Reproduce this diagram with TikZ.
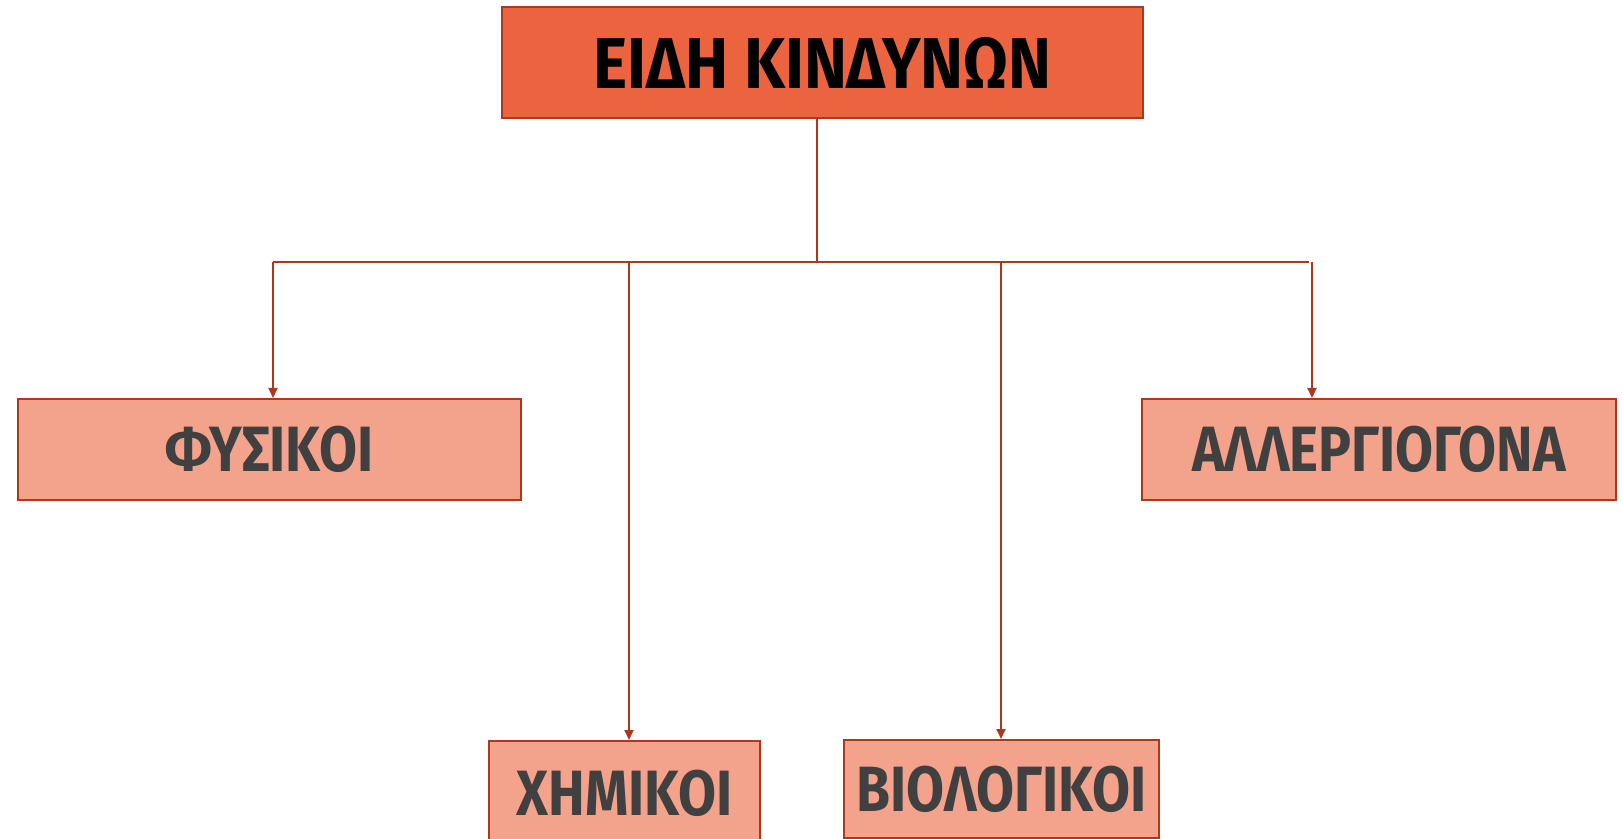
\documentclass[tikz,border=0pt]{standalone}
\usepackage{fontspec}
\setmainfont{Fira Sans}
\newfontfamily\headfont{Fira Sans}[FakeStretch=0.9]
\newfontfamily\kindfont{Fira Sans}[FakeStretch=0.86]
\usetikzlibrary{arrows.meta}
\definecolor{topfill}{HTML}{EC6340}
\definecolor{boxfill}{HTML}{F3A38B}
\definecolor{edge}{HTML}{AE371C}
\definecolor{txt}{HTML}{404040}

\begin{document}
\begin{tikzpicture}[x=0.5pt,y=-0.5pt,
    topbox/.style={draw=edge,line width=1pt,fill=topfill,inner sep=0pt,
      font=\headfont\fontsize{36}{40}\selectfont\bfseries},
    kindbox/.style={draw=edge,line width=1pt,fill=boxfill,inner sep=0pt,
      text=txt,font=\kindfont\fontsize{32}{36}\selectfont\bfseries},
    link/.style={draw=edge,line width=1pt},
    arr/.style={link,-{Triangle[length=5pt,width=4.5pt]}}]
    \useasboundingbox (0,0) rectangle (1622,839);
    \node[topbox,minimum width=320.5pt,minimum height=55.5pt] (top) at (822.5,62.5) {ΕΙΔΗ ΚΙΝΔΥΝΩΝ};
    \node[kindbox,minimum width=251.5pt,minimum height=50.5pt] (fys) at (269.5,449.5) {ΦΥΣΙΚΟΙ};
    \node[kindbox,minimum width=237pt,minimum height=50.5pt] (aller) at (1379,449.5) {ΑΛΛΕΡΓΙΟΓΟΝΑ};
    \node[kindbox,minimum width=135.5pt,minimum height=52pt] (chem) at (624.5,793) {ΧΗΜΙΚΟΙ};
    \node[kindbox,minimum width=157.5pt,minimum height=49pt] (bio) at (1001.5,789) {ΒΙΟΛΟΓΙΚΟΙ};
    \coordinate (hub) at (817,262);
    \coordinate (bl) at (273,262);
    \coordinate (br) at (1309,262);
    \coordinate (bc) at (629,262);
    \coordinate (bb) at (1001,262);
    \coordinate (ba) at (1312,262);
    \draw[link] (top.south -| hub) -- (hub);
    \draw[link] (bl) -- (br);
    \draw[arr] (bl) -- (bl |- fys.north);
    \draw[arr] (bc) -- (bc |- chem.north);
    \draw[arr] (bb) -- (bb |- bio.north);
    \draw[arr] (ba) -- (ba |- aller.north);
\end{tikzpicture}
\end{document}
